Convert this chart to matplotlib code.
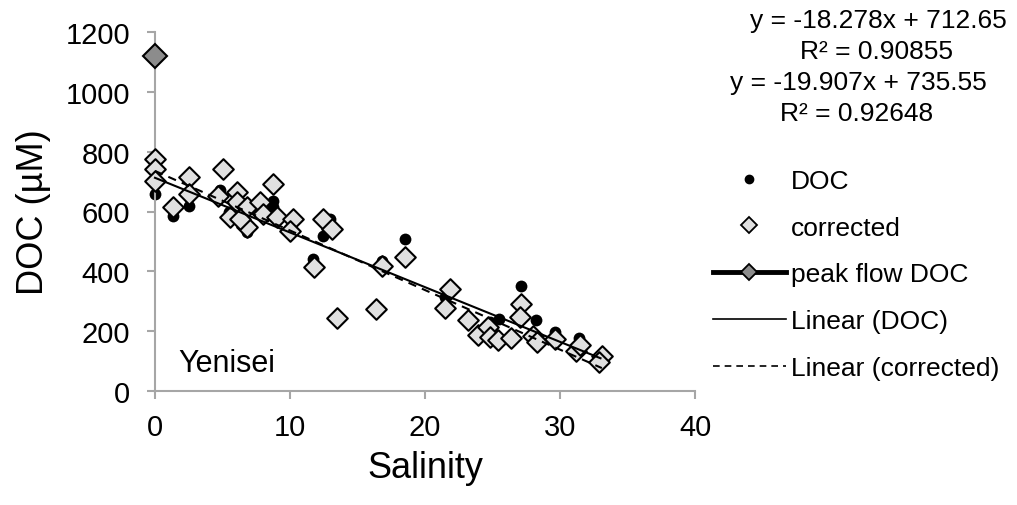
import matplotlib
matplotlib.use("Agg")
import matplotlib.pyplot as plt
from matplotlib.lines import Line2D
import numpy as np

plt.rcParams['font.family'] = ['Liberation Sans', 'DejaVu Sans']

# ---- data ----
doc_sal = [0, 1.3, 2.5, 4.8, 5.5, 6.1, 6.8, 8.75, 8.75, 10.0, 11.7, 12.45, 12.96,
           16.8, 18.5, 21.5, 24.8, 25.5, 27.1, 28.2, 29.6, 31.4, 33.0]
doc_val = [659, 586, 620, 672, 600, 640, 531, 635, 615, 545, 441, 519, 575,
           436, 508, 314, 232, 241, 352, 237, 197, 177, 115]

corr_sal = [0, 0, 0, 1.3, 2.5, 2.5, 5.06, 4.7, 5.55, 6.1, 6.05, 6.8, 6.8, 6.3,
            7.8, 8.0, 8.75, 9.0, 10.2, 10.0, 12.45, 13.1, 11.8, 18.5, 16.8, 16.4,
            13.5, 21.85, 21.5, 23.2, 23.9, 24.7, 24.8, 25.4, 26.4, 27.1, 27.0,
            28.0, 28.3, 29.6, 31.2, 31.5, 33.1, 32.9]
corr_val = [776, 742, 702, 614, 715, 659, 742, 653, 582, 665, 632, 615, 548, 575,
            632, 592, 692, 582, 575, 535, 575, 542, 414, 448, 418, 274,
            244, 341, 277, 238, 187, 214, 180, 172, 177, 291, 247,
            185, 164, 174, 135, 154, 118, 98]

peak_sal = [0]
peak_val = [1120]

fit_doc = (-18.278, 712.65)
fit_corr = (-19.907, 735.55)
r2_doc = 0.90855
r2_corr = 0.92648

x_ticks = [0, 10, 20, 30, 40]
y_ticks = [0, 200, 400, 600, 800, 1000, 1200]

# ---- figure ----
W, H = 1017, 506
fig = plt.figure(figsize=(W / 100, H / 100), dpi=100)
ax = fig.add_axes([155 / W, 1 - 392 / H, 540 / W, 359 / H])

grey = '#a6a6a6'
ax.scatter(doc_sal, doc_val, s=8.5 ** 2, color='black', zorder=2, linewidths=0)
ax.scatter(corr_sal, corr_val, marker='D', s=10.5 ** 2, facecolor='#e0e0e0',
           edgecolor='black', linewidths=1.5, zorder=3)
ax.plot(peak_sal, peak_val, marker='D', ms=12.5, mfc='#8c8c8c', mec='black',
        mew=1.5, color='black', lw=3.5, zorder=4)

xd = np.array([min(doc_sal), max(doc_sal)])
ax.plot(xd, fit_doc[0] * xd + fit_doc[1], color='black', lw=1.5, zorder=5)
xc = np.array([min(corr_sal), max(corr_sal)])
ax.plot(xc, fit_corr[0] * xc + fit_corr[1], color='black', lw=1.5,
        ls=(0, (4, 3)), zorder=5)

ax.set_xlim(0, 40)
ax.set_ylim(0, 1200)
ax.set_xticks(x_ticks)
ax.set_yticks(y_ticks)
for s in ['top', 'right']:
    ax.spines[s].set_visible(False)
for s in ['left', 'bottom']:
    ax.spines[s].set_color(grey)
    ax.spines[s].set_linewidth(1.5)
ax.tick_params(axis='both', colors=grey, labelcolor='black', labelsize=21,
               length=6, width=1.5, direction='out')
ax.tick_params(axis='y', pad=12)
ax.tick_params(axis='x', pad=10)
for c in ax.collections + ax.lines:
    c.set_clip_on(False)

ax.set_xlabel('Salinity', fontsize=26, labelpad=6)
ax.set_ylabel('DOC (µM)', fontsize=26, labelpad=10)

ax.text(1.7, 95, 'Yenisei', fontsize=22, ha='left', va='center')

# equations
fig.text(878 / W, 1 - 21 / H, f'y = {fit_doc[0]}x + {fit_doc[1]}', fontsize=19,
         ha='center', va='center')
fig.text(877 / W, 1 - 52 / H, f'R² = {r2_doc}', fontsize=19, ha='center', va='center')
fig.text(858 / W, 1 - 83 / H, f'y = {fit_corr[0]}x + {fit_corr[1]}', fontsize=19,
         ha='center', va='center')
fig.text(857 / W, 1 - 114 / H, f'R² = {r2_corr}', fontsize=19, ha='center', va='center')

handles = [
    Line2D([], [], ls='none', marker='o', color='black', ms=6),
    Line2D([], [], ls='none', marker='D', mfc='#e0e0e0', mec='black', ms=8, mew=1.3),
    Line2D([], [], color='black', lw=3.5, marker='D', mfc='#8c8c8c', mec='black',
           ms=8, mew=1.3),
    Line2D([], [], color='black', lw=1.2),
    Line2D([], [], color='black', lw=1.2, ls=(0, (4, 3))),
]
labels = ['DOC', 'corrected', 'peak flow DOC', 'Linear (DOC)', 'Linear (corrected)']
fig.legend(handles, labels, loc='upper left', bbox_to_anchor=(713 / W, 1 - 170 / H),
           frameon=False, fontsize=19, handlelength=2.75, handletextpad=0.2,
           labelspacing=0.86, borderpad=0, borderaxespad=0)

fig.savefig('out.png', dpi=100)
